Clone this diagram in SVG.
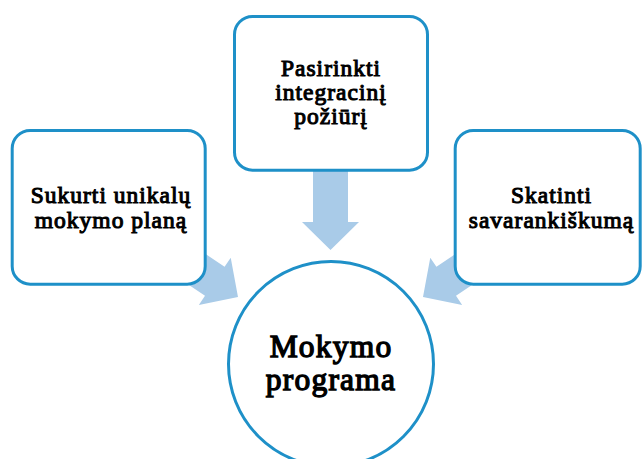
<svg xmlns="http://www.w3.org/2000/svg" xmlns:xlink="http://www.w3.org/1999/xlink" width="642" height="459" viewBox="0 0 642 459">
  <style>
    .box { fill: #ffffff; stroke: #1e90c8; stroke-width: 3; }
    .arrow { fill: #a9cbe8; stroke: none; }
    .lbl { font-family: "Liberation Serif", "Times New Roman", serif; fill: #000000; stroke: #000000; text-anchor: middle; }
    .small { font-size: 23.5px; stroke-width: 1.05; letter-spacing: 1px; }
    .big { font-size: 31.5px; stroke-width: 1.35; letter-spacing: 1.2px; }
  </style>
  <defs>
    <path id="arrowShape" d="M0,0 L-28,-28.5 L-28,-17.5 L-95,-17.5 L-95,17.5 L-28,17.5 L-28,28.5 Z"/>
  </defs>
  <rect width="642" height="459" fill="#ffffff"/>
  <g id="connectors">
    <use xlink:href="#arrowShape" class="arrow" transform="translate(330.5,250) rotate(90)"/>
    <use xlink:href="#arrowShape" class="arrow" transform="translate(238,297) rotate(34)"/>
    <use xlink:href="#arrowShape" class="arrow" transform="translate(423,297) rotate(146)"/>
  </g>
  <g id="node-top">
    <rect class="box" x="234.5" y="16.5" width="193" height="153.7" rx="18" ry="18"/>
    <text class="lbl small" x="331" y="75.7">Pasirinkti</text>
    <text class="lbl small" x="331" y="99.9">integracinį</text>
    <text class="lbl small" x="331" y="123.7">požiūrį</text>
  </g>
  <g id="node-left">
    <rect class="box" x="12.2" y="130.5" width="193" height="153.7" rx="18" ry="18"/>
    <text class="lbl small" x="111" y="203.3">Sukurti unikalų</text>
    <text class="lbl small" x="111" y="228.3">mokymo planą</text>
  </g>
  <g id="node-right">
    <rect class="box" x="455.2" y="130.5" width="185" height="153.7" rx="18" ry="18"/>
    <text class="lbl small" x="551.5" y="203.3">Skatinti</text>
    <text class="lbl small" x="551.5" y="228.3">savarankiškumą</text>
  </g>
  <g id="node-center">
    <circle class="box" cx="331" cy="364" r="102.5"/>
    <text class="lbl big" x="331" y="356.7">Mokymo</text>
    <text class="lbl big" x="331" y="390">programa</text>
  </g>
</svg>
